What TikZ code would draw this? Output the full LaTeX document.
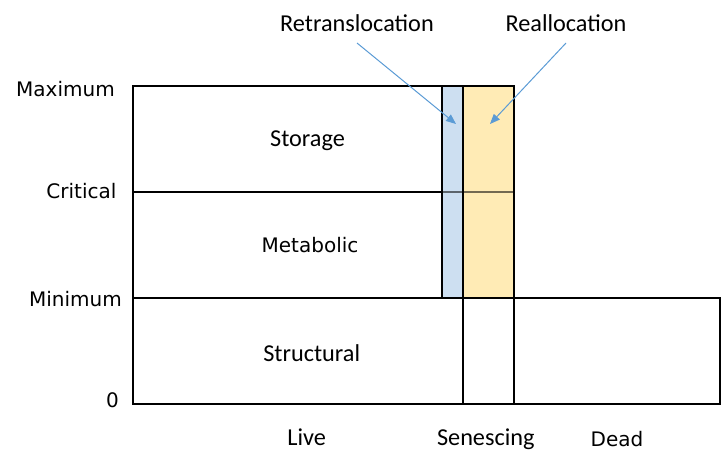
\documentclass[tikz,border=0pt]{standalone}
\usepackage{fontspec}
\setmainfont{Carlito}
\newfontfamily\vfont{DejaVu Sans}
\usetikzlibrary{arrows.meta}
\definecolor{stripblue}{HTML}{CDDFF1}
\definecolor{stripyellow}{HTML}{FFEBB5}
\definecolor{arrowblue}{HTML}{5B9BD5}
\tikzset{
  box/.style={draw=black,line width=0.9pt},
  clab/.style={font=\fontsize{18.2}{21}\selectfont,anchor=base,inner sep=0pt},
  vlab/.style={font=\vfont\fontsize{15}{18}\selectfont,anchor=base east,inner sep=0pt},
  vlabc/.style={font=\vfont\fontsize{15}{18}\selectfont,anchor=base,inner sep=0pt},
  callout/.style={draw=arrowblue,line width=0.75pt,-{Triangle[length=7.5pt,width=6pt]}}
}
\begin{document}
\begin{tikzpicture}[x=0.75pt,y=-0.75pt]
\useasboundingbox (0,0) rectangle (721,468);
% upper box
\draw[box] (133,86) rectangle (442,298);
% strips
\filldraw[box,fill=stripblue] (442,86) rectangle (463,298);
\filldraw[box,fill=stripyellow] (463,86) rectangle (514,298);
% critical line
\draw[box] (133,192) -- (442,192);
\draw[box,draw opacity=0.55] (442,192) -- (514,192);
% bottom box
\draw[box] (133,298) rectangle (720,404);
\draw[box] (463,298) -- (463,404);
\draw[box] (514,298) -- (514,404);
% inner labels
\node[clab] (storage) at (307.5,146.7) {Storage};
\node[vlabc] (metabolic) at (310,252.7) {Metabolic};
\node[clab] (structural) at (311.7,361) {Structural};
% axis labels
\node[vlab] (max) at (115,96.7) {Maximum};
\node[vlab] (crit) at (116.7,198.3) {Critical};
\node[vlab] (min) at (122,306.7) {Minimum};
\node[vlab] (zero) at (119,407) {0};
% bottom labels
\node[clab] (live) at (306.7,445) {Live};
\node[clab] (sen) at (485.8,445) {Senescing};
\node[vlabc] (dead) at (617,446.7) {Dead};
% top labels
\node[clab] (retr) at (357,31) {Retranslocation};
\node[clab] (realloc) at (566,31) {Reallocation};
\coordinate (retrS) at (357,43);
\coordinate (retrE) at (456,124);
\coordinate (reallS) at (566,43);
\coordinate (reallE) at (490,124);
\draw[callout] (retrS) -- (retrE);
\draw[callout] (reallS) -- (reallE);
\end{tikzpicture}
\end{document}
